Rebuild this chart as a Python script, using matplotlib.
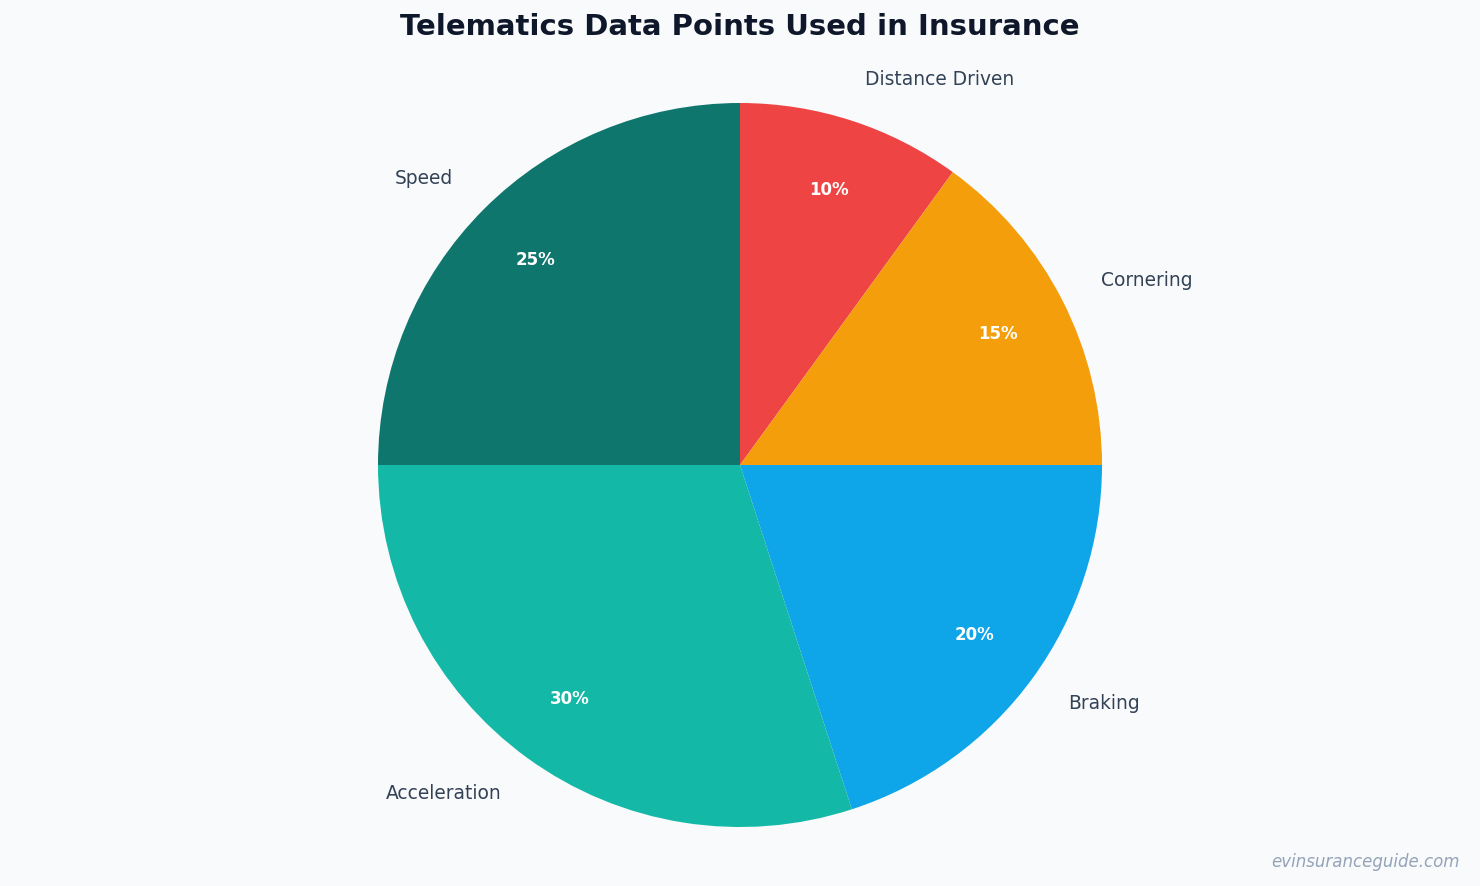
import matplotlib
matplotlib.use("Agg")
import matplotlib.pyplot as plt

# data
labels = ["Distance Driven", "Cornering", "Braking", "Acceleration", "Speed"]
shares = [10, 15, 20, 30, 25]
colors = ["#EF4444", "#F59E0B", "#0EA5E9", "#14B8A6", "#0F766E"]

bg = "#F8FAFC"
fig = plt.figure(figsize=(14.8, 8.86), dpi=100, facecolor=bg)

# square axes so the pie sits where it does in the original
ax = fig.add_axes([378/1480, 59/886, 724/1480, 724/886])
ax.set_facecolor(bg)

wedges, texts, autotexts = ax.pie(
    shares, labels=labels, colors=colors, startangle=90, counterclock=False,
    autopct="%d%%", pctdistance=0.8, labeldistance=1.12,
    wedgeprops=dict(linewidth=0),
    textprops=dict(fontsize=13.4, color="#334155"))
for t in autotexts:
    t.set_color("white")
    t.set_fontweight("bold")
    t.set_fontsize(12)
ax.set_xlim(-1, 1)
ax.set_ylim(-1, 1)
ax.set_aspect("equal")

fig.text(0.5, 1 - 27/886, "Telematics Data Points Used in Insurance",
         ha="center", va="center", fontsize=21, fontweight="bold", color="#0F172A")
fig.text(1460/1480, 1 - 862/886, "evinsuranceguide.com", ha="right", va="center",
         fontsize=12, style="italic", color="#94A3B8")

fig.savefig("out.png", dpi=100, facecolor=bg)
